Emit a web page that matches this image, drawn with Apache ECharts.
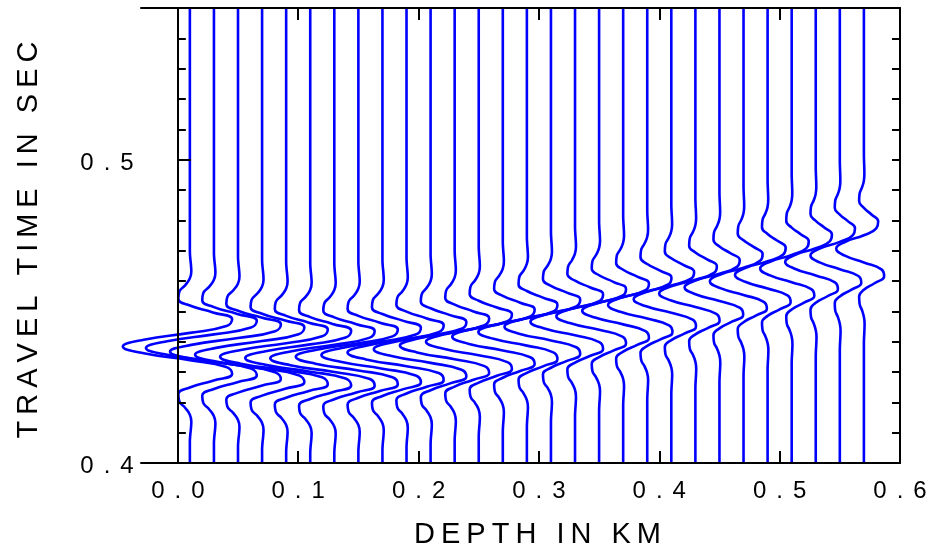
<!DOCTYPE html>
<html>
<head>
<meta charset="utf-8">
<script src="https://cdn.jsdelivr.net/npm/echarts@6/dist/echarts.min.js"></script>
<style>
html,body{margin:0;padding:0;background:#fff;}
#chart{width:936px;height:552px;}
</style>
</head>
<body>
<div id="chart"></div>
<script>
// ---- data ----
const depths = [0.01,0.03,0.05,0.07,0.09,0.11,0.13,0.15,0.17,0.19,0.21,0.23,0.25,0.27,0.29,0.31,0.33,0.35,0.37,0.39,0.41,0.43,0.45,0.47,0.49,0.51,0.53,0.55,0.57];
const arrivalTimes = [0.4384,0.4379,0.4367,0.4357,0.4350,0.4346,0.4345,0.4350,0.4356,0.4364,0.4375,0.4387,0.4400,0.4416,0.4432,0.4449,0.4466,0.4484,0.4502,0.4521,0.4540,0.4559,0.4579,0.4599,0.4620,0.4641,0.4663,0.4684,0.4706];
const amplitudes = [0.0557,0.0565,0.0565,0.0557,0.0549,0.0540,0.0532,0.0520,0.0507,0.0490,0.0472,0.0455,0.0438,0.0420,0.0403,0.0386,0.0370,0.0355,0.0340,0.0326,0.0313,0.0301,0.0290,0.0280,0.0271,0.0262,0.0254,0.0244,0.0230];
// lobe factors for the earlier (lower) and later (upper) half of each trace's wavelet
const earlyLobeScale = [1,1,1,1,1,1,1,1,1,1,1,1,1,1,1,1,1,1,1,1.02,1.04,1.06,1.08,1.10,1.12,1.14,1.15,1.16,1.16];
const lateLobeScale  = [1,1,1,1,1,1,1,1,1,1,1,1,1,1,1,1,1,1,1,0.98,0.96,0.94,0.92,0.90,0.88,0.86,0.84,0.82,0.82];
const waveletTime = [-0.0315,-0.02925,-0.027,-0.02475,-0.0225,-0.02025,-0.018,-0.01575,-0.0135,-0.01125,-0.009,-0.00675,-0.0045,-0.00225,0,0.00225,0.0045,0.00675,0.009,0.01125,0.0135,0.01575,0.018,0.02025,0.0225,0.02475,0.027,0.02925,0.0315];
const waveletShape = [0,0.0054,0.0157,0.0215,0,-0.068,-0.158,-0.172,0,0.344,0.630,0.545,0,-0.687,-1,-0.687,0,0.545,0.630,0.344,0,-0.172,-0.158,-0.068,0,0.0215,0.0157,0.0054,0];
const xTickValues = [0,0.1,0.2,0.3,0.4,0.5,0.6];
const yLabelValues = [0.4,0.5];
const xName = 'DEPTH IN KM';
const yName = 'TRAVEL TIME IN SEC';
const xRange = [-0.0306, 0.6];
const yRange = [0.4, 0.55];

// ---- layout ----
const G = { left: 141, right: 36, top: 8, bottom: 89 };
const plotW = 936 - G.left - G.right;
const kmPerPx = (xRange[1] - xRange[0]) / plotW;
const extraLeft = 60; // wider drawing area so trace peaks may cross the left frame
const FONT = '"Liberation Sans", Arial, Helvetica, sans-serif';
function spaced(str, tag) {
  return str.split('').map(c => '{' + tag + '|' + c + '}').join('');
}
function tickFmt(v) { return spaced(v.toFixed(1), 'c'); }
const tickRich = { c: { width: 20, align: 'center', fontSize: 24, fontFamily: FONT, color: '#000' } };
const nameRich = { n: { padding: [0, 3, 0, 3], fontSize: 29, fontFamily: FONT, color: '#000' } };

const series = depths.map((d, i) => {
  const A = amplitudes[i], t0 = arrivalTimes[i];
  const pts = [[d, yRange[0]]];
  for (let k = 0; k < waveletTime.length; k++) {
    const s = waveletTime[k] < 0 ? earlyLobeScale[i] : (waveletTime[k] > 0 ? lateLobeScale[i] : 1);
    const w = waveletShape[k] > 0 ? waveletShape[k] * s : waveletShape[k];
    pts.push([d + A * w, t0 + waveletTime[k]]);
  }
  pts.push([d, yRange[1]]);
  return {
    type: 'line', data: pts, smooth: 0.5, symbol: 'none', clip: false,
    xAxisIndex: 2, yAxisIndex: 3, silent: true, animation: false, z: 1,
    lineStyle: { color: '#0000ff', width: 2.6 }
  };
});

const frameLine = { show: true, lineStyle: { color: '#000', width: 2 } };
const hidden = { show: false };
const chart = echarts.init(document.getElementById('chart'), null, { renderer: 'canvas' });
chart.setOption({
  animation: false,
  backgroundColor: '#fff',
  grid: [
    { left: G.left, right: G.right, top: G.top, bottom: G.bottom, containLabel: false, outerBoundsMode: 'none', z: 5 },
    { left: G.left - extraLeft, right: G.right, top: G.top, bottom: G.bottom, containLabel: false, outerBoundsMode: 'none' }
  ],
  xAxis: [
    {
      type: 'value', gridIndex: 0, min: xRange[0], max: xRange[1], position: 'bottom', z: 5,
      axisLine: frameLine,
      axisTick: { show: true, inside: true, length: 12, customValues: xTickValues, lineStyle: { color: '#000', width: 2 } },
      axisLabel: { show: true, customValues: xTickValues, formatter: tickFmt, rich: tickRich, margin: 16 },
      splitLine: hidden,
      name: spaced(xName, 'n'), nameLocation: 'middle', nameGap: 57,
      nameTextStyle: { rich: nameRich, padding: [0, 0, 0, 34] }
    },
    {
      type: 'value', gridIndex: 0, min: xRange[0], max: xRange[1], position: 'top', z: 5,
      axisLine: frameLine,
      axisTick: { show: true, inside: true, length: 12, customValues: xTickValues, lineStyle: { color: '#000', width: 2 } },
      axisLabel: hidden, splitLine: hidden
    },
    {
      type: 'value', gridIndex: 1, min: xRange[0] - extraLeft * kmPerPx, max: xRange[1],
      axisLine: hidden, axisTick: hidden, axisLabel: hidden, splitLine: hidden
    }
  ],
  yAxis: [
    {
      type: 'value', gridIndex: 0, min: yRange[0], max: yRange[1], interval: 0.01, position: 'left', z: 5,
      axisLine: frameLine,
      axisTick: { show: true, inside: true, length: 8, lineStyle: { color: '#000', width: 2 } },
      axisLabel: { show: true, customValues: yLabelValues, formatter: tickFmt, rich: tickRich, margin: 4, padding: [7, 0, 0, 0] },
      splitLine: hidden,
      name: spaced(yName, 'n'), nameLocation: 'middle', nameGap: 98,
      nameTextStyle: { rich: nameRich, padding: [0, 9, 0, 0] }
    },
    {
      type: 'value', gridIndex: 0, min: yRange[0], max: yRange[1], position: 'left', z: 5,
      axisLine: hidden,
      axisTick: { show: true, inside: true, length: 13, customValues: [0.5], lineStyle: { color: '#000', width: 2 } },
      axisLabel: hidden, splitLine: hidden
    },
    {
      type: 'value', gridIndex: 0, min: yRange[0], max: yRange[1], interval: 0.01, position: 'right', z: 5,
      axisLine: frameLine,
      axisTick: { show: true, inside: true, length: 8, lineStyle: { color: '#000', width: 2 } },
      axisLabel: hidden, splitLine: hidden
    },
    {
      type: 'value', gridIndex: 1, min: yRange[0], max: yRange[1],
      axisLine: hidden, axisTick: hidden, axisLabel: hidden, splitLine: hidden
    }
  ],
  series: series
});
</script>
</body>
</html>
